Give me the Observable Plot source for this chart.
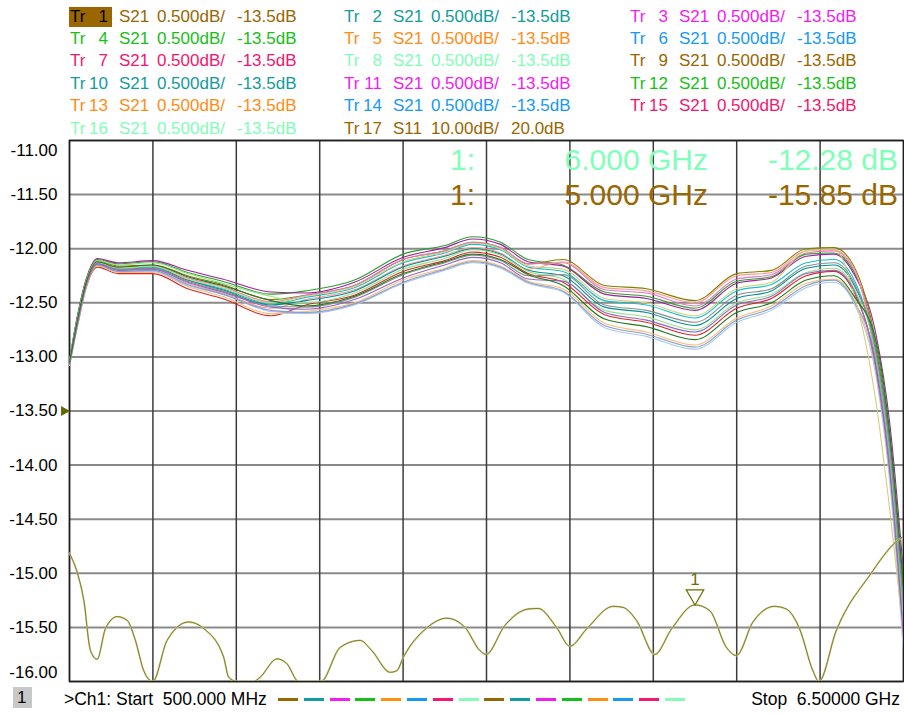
<!DOCTYPE html>
<html><head><meta charset="utf-8">
<script src="https://cdn.jsdelivr.net/npm/d3@7"></script>
<script src="https://cdn.jsdelivr.net/npm/@observablehq/plot@0.6"></script>
<style>
body{margin:0;background:#fff;font-family:"Liberation Sans",Arial,sans-serif;}
#wrap{position:relative;width:904px;height:714px;overflow:hidden;background:#fff}
.t{position:absolute;white-space:pre;font-size:17px;line-height:20px;}
.big{position:absolute;white-space:pre;font-size:30px;line-height:32px;}
#chart{position:absolute;left:0;top:130px;}
</style></head><body><div id="wrap"><div id="chart"></div></div>
<script>
// ---- data ----
const freqGHz = [0.50,0.56,0.62,0.70,0.85,1.10,1.35,1.60,1.95,2.20,2.55,2.90,3.20,3.40,3.60,3.80,4.05,4.35,4.65,5.00,5.30,5.55,5.80,6.00,6.15,6.30,6.40,6.50];

const tr1  = [-13.04,-12.61,-12.29,-12.10,-12.14,-12.12,-12.22,-12.30,-12.42,-12.39,-12.29,-12.05,-11.97,-11.89,-11.94,-12.10,-12.15,-12.40,-12.44,-12.55,-12.30,-12.26,-12.05,-12.04,-12.23,-12.91,-13.78,-15.24];
const tr2  = [-13.03,-12.60,-12.28,-12.09,-12.13,-12.11,-12.20,-12.28,-12.40,-12.41,-12.31,-12.08,-11.99,-11.91,-11.96,-12.12,-12.16,-12.42,-12.46,-12.57,-12.32,-12.27,-12.07,-12.05,-12.25,-12.78,-13.60,-15.00];
const tr3  = [-13.04,-12.63,-12.30,-12.11,-12.16,-12.15,-12.25,-12.33,-12.47,-12.43,-12.34,-12.10,-12.02,-11.94,-11.99,-12.14,-12.10,-12.34,-12.37,-12.48,-12.23,-12.20,-12.00,-11.99,-12.18,-12.86,-13.72,-15.16];
const tr4  = [-13.06,-12.65,-12.32,-12.13,-12.18,-12.17,-12.29,-12.37,-12.51,-12.45,-12.36,-12.13,-12.04,-11.96,-12.01,-12.17,-12.21,-12.48,-12.52,-12.64,-12.39,-12.33,-12.13,-12.10,-12.30,-12.99,-13.90,-15.40];
const tr5  = [-13.05,-12.64,-12.31,-12.12,-12.17,-12.16,-12.27,-12.35,-12.49,-12.43,-12.34,-12.10,-12.02,-11.94,-11.99,-12.14,-12.13,-12.38,-12.41,-12.53,-12.28,-12.24,-12.04,-12.02,-12.21,-12.95,-13.84,-15.32];
const tr6  = [-13.07,-12.67,-12.34,-12.15,-12.20,-12.19,-12.32,-12.41,-12.55,-12.47,-12.38,-12.16,-12.06,-11.99,-12.04,-12.19,-12.12,-12.36,-12.39,-12.50,-12.25,-12.22,-12.02,-12.01,-12.20,-13.03,-13.96,-15.48];
const tr7  = [-13.08,-12.70,-12.36,-12.17,-12.23,-12.23,-12.37,-12.46,-12.62,-12.52,-12.43,-12.21,-12.11,-12.03,-12.08,-12.23,-12.31,-12.61,-12.68,-12.80,-12.55,-12.46,-12.25,-12.21,-12.42,-13.07,-14.02,-15.56];
const tr8  = [-13.08,-12.69,-12.35,-12.16,-12.22,-12.22,-12.35,-12.44,-12.60,-12.58,-12.50,-12.29,-12.18,-12.11,-12.16,-12.30,-12.37,-12.69,-12.77,-12.89,-12.64,-12.53,-12.32,-12.28,-12.49,-13.12,-14.08,-15.64];
const tr9  = [-13.07,-12.68,-12.34,-12.15,-12.21,-12.21,-12.34,-12.42,-12.58,-12.60,-12.52,-12.32,-12.20,-12.13,-12.18,-12.32,-12.40,-12.73,-12.81,-12.93,-12.68,-12.57,-12.36,-12.31,-12.52,-13.16,-14.14,-15.72];
const tr10 = [-13.07,-12.68,-12.34,-12.15,-12.21,-12.20,-12.33,-12.42,-12.57,-12.59,-12.51,-12.31,-12.19,-12.12,-12.17,-12.31,-12.39,-12.71,-12.79,-12.91,-12.66,-12.55,-12.34,-12.29,-12.50,-13.03,-13.96,-15.48];
const tr11 = [-13.06,-12.66,-12.32,-12.13,-12.19,-12.18,-12.29,-12.38,-12.52,-12.48,-12.39,-12.17,-12.07,-12.00,-12.05,-12.20,-12.25,-12.54,-12.59,-12.71,-12.46,-12.39,-12.18,-12.15,-12.35,-12.93,-13.81,-15.28];
const tr12 = [-13.05,-12.65,-12.32,-12.13,-12.18,-12.16,-12.28,-12.36,-12.50,-12.44,-12.35,-12.12,-12.03,-11.95,-12.00,-12.16,-12.19,-12.46,-12.50,-12.62,-12.37,-12.31,-12.02,-12.00,-12.45,-13.40,-14.40,-15.55];
const tr13 = [-13.04,-12.62,-12.30,-12.11,-12.15,-12.13,-12.23,-12.32,-12.44,-12.50,-12.41,-12.19,-12.09,-12.01,-12.06,-12.21,-12.28,-12.57,-12.63,-12.75,-12.50,-12.42,-12.22,-12.18,-12.38,-12.97,-13.87,-15.36];
const tr14 = [-13.06,-12.66,-12.33,-12.14,-12.19,-12.18,-12.30,-12.39,-12.53,-12.54,-12.45,-12.24,-12.13,-12.06,-12.11,-12.25,-12.24,-12.52,-12.57,-12.68,-12.43,-12.37,-12.16,-12.13,-12.33,-12.95,-13.84,-15.32];
const tr15 = [-13.06,-12.67,-12.33,-12.14,-12.20,-12.19,-12.31,-12.40,-12.54,-12.56,-12.47,-12.27,-12.15,-12.08,-12.13,-12.28,-12.30,-12.59,-12.66,-12.77,-12.52,-12.44,-12.23,-12.20,-12.40,-13.10,-14.05,-15.60];
const tr16 = [-13.05,-12.64,-12.31,-12.12,-12.17,-12.15,-12.26,-12.34,-12.48,-12.53,-12.44,-12.23,-12.12,-12.05,-12.10,-12.24,-12.34,-12.65,-12.72,-12.84,-12.59,-12.50,-12.29,-12.25,-12.45,-12.84,-13.69,-15.12];
const s21Traces = [tr1,tr2,tr3,tr4,tr5,tr6,tr7,tr8,tr9,tr10,tr11,tr12,tr13,tr14,tr15,tr16];
const curveColors = ["#2ca02c","#a0209a","#808000","#17becf","#e377c2","#ff9896","#d62728","#ffbb78","#aec7e8","#7f9fd0","#009090","#d4d07a","#98df8a","#8c8c8c","#9467bd","#1e7b1e"];

// Tr 17: S11 (10 dB/div, ref 20 dB at the reference line)
const s11Freq = [0.50,0.555,0.603,0.651,0.699,0.759,0.843,0.915,0.974,1.034,1.099,1.202,1.357,1.465,1.609,1.645,1.705,1.824,1.872,1.992,2.064,2.148,2.309,2.447,2.591,2.675,2.807,2.855,2.902,3.070,3.214,3.345,3.453,3.496,3.633,3.800,3.872,4.004,4.100,4.220,4.411,4.483,4.579,4.711,4.831,5.000,5.106,5.226,5.298,5.417,5.573,5.657,5.753,5.848,5.891,6.016,6.256,6.459,6.500];
const s11dB   = [-6.3,-9.8,-15.0,-24.3,-25.9,-20.2,-18.0,-18.7,-22.4,-28.0,-30.0,-22.4,-19.0,-20.2,-25.5,-29.2,-30.0,-30.0,-29.2,-25.8,-26.7,-30.0,-30.0,-23.7,-22.4,-24.3,-28.3,-28.0,-25.5,-20.1,-18.3,-20.0,-24.3,-25.0,-19.6,-16.6,-16.5,-20.0,-23.5,-20.3,-16.1,-16.3,-18.7,-25.0,-20.3,-15.85,-16.9,-23.7,-25.2,-19.0,-16.1,-16.6,-20.3,-28.0,-30.0,-20.6,-10.4,-3.9,-3.2];
const s11Ref = 20.0, s11PerDiv = 10.0, s21Ref = -13.5, s21PerDiv = 0.5;

const yTicks = [-11.0,-11.5,-12.0,-12.5,-13.0,-13.5,-14.0,-14.5,-15.0,-15.5,-16.0];
const xGrid = [0.5,1.1,1.7,2.3,2.9,3.5,4.1,4.7,5.3,5.9,6.5];

const legendNums = ["1","2","3","4","5","6","7","8","9","10","11","12","13","14","15","16","17"];
const legendParams = ["S21","S21","S21","S21","S21","S21","S21","S21","S21","S21","S21","S21","S21","S21","S21","S21","S11"];
const legendScales = ["0.500dB/","0.500dB/","0.500dB/","0.500dB/","0.500dB/","0.500dB/","0.500dB/","0.500dB/","0.500dB/","0.500dB/","0.500dB/","0.500dB/","0.500dB/","0.500dB/","0.500dB/","0.500dB/","10.00dB/"];
const legendRefs = ["-13.5dB","-13.5dB","-13.5dB","-13.5dB","-13.5dB","-13.5dB","-13.5dB","-13.5dB","-13.5dB","-13.5dB","-13.5dB","-13.5dB","-13.5dB","-13.5dB","-13.5dB","-13.5dB","20.0dB"];
const legendColors = ["#996600","#139c9c","#f01cf0","#16c016","#ff8c14","#1699f5","#f5166e","#84fcb8","#996600","#139c9c","#f01cf0","#16c016","#ff8c14","#1699f5","#f5166e","#84fcb8","#996600"];

const markerRows = [
  {label:"1:", freq:"6.000 GHz", val:"-12.28 dB", color:"#80ffb8"},
  {label:"1:", freq:"5.000 GHz", val:"-15.85 dB", color:"#996600"}
];
const markerFreq = 5.0, markerS11 = -15.85;
const startText = ">Ch1: Start  500.000 MHz", stopText = "Stop  6.50000 GHz";

// ---- build ----
const toDisp = v => s21Ref + (v - s11Ref) / s11PerDiv * s21PerDiv;
const s11Rows = s11Freq.map((f,i)=>({f, v: toDisp(s11dB[i])}));

const marks = [
  Plot.gridY(yTicks, {stroke:"#8a8a8a", strokeWidth:2, strokeOpacity:1}),
  Plot.gridX(xGrid, {stroke:"#3c3c3c", strokeWidth:1.5, strokeOpacity:1}),
  Plot.frame({stroke:"#1e1e1e", strokeWidth:1.5}),
  Plot.axisY(yTicks.slice(1,-1), {tickSize:0, tickPadding:12, fontSize:17, fill:"#000", tickFormat:d=>d.toFixed(2), label:null}),
  Plot.axisY([yTicks[0]], {tickSize:0, tickPadding:12, fontSize:17, fill:"#000", dy:10, tickFormat:d=>d.toFixed(2), label:null}),
  Plot.axisY([yTicks[yTicks.length-1]], {tickSize:0, tickPadding:12, fontSize:17, fill:"#000", dy:-9, tickFormat:d=>d.toFixed(2), label:null})
];
s21Traces.forEach((arr,k)=>{
  const rows = freqGHz.map((f,i)=>({f, v: arr[i]}));
  marks.push(Plot.line(rows, {x:"f", y:"v", stroke:curveColors[k], strokeWidth:1.1, curve:"monotone-x", clip:true}));
});
marks.push(Plot.line(s11Rows, {x:"f", y:"v", stroke:"#cfca98", strokeWidth:1.8, curve:"monotone-x", clip:true}));
marks.push(Plot.line(s11Rows, {x:"f", y:"v", stroke:"#6e6e00", strokeWidth:0.8, curve:"monotone-x", clip:true}));
marks.push(Plot.dot([{f:0.5, v:s21Ref}], {x:"f", y:"v", symbol:"triangle", rotate:90, r:3.8, fill:"#666600", stroke:null, dx:-5.5}));
marks.push(Plot.dot([{f:markerFreq, v:toDisp(markerS11)}], {x:"f", y:"v", symbol:"triangle", rotate:180, r:6.5, fill:"none", stroke:"#6e6e00", strokeWidth:1.2, dy:-10}));
marks.push(Plot.text([{f:markerFreq, v:toDisp(markerS11)}], {x:"f", y:"v", text:()=>"1", fontSize:17, fill:"#6e6e00", dy:-25}));

const chart = Plot.plot({
  width:904, height:560, marginTop:10, marginBottom:9, marginLeft:69, marginRight:1,
  x:{domain:[0.5,6.5], axis:null},
  y:{domain:[-16,-11], axis:null},
  style:{fontFamily:"'Liberation Sans', Arial, sans-serif", background:"transparent", overflow:"visible"},
  marks
});
document.getElementById("chart").appendChild(chart);

const wrap = document.getElementById("wrap");
function addText(txt, x, cy, color, opts={}) {
  const d = document.createElement("div");
  d.className = opts.cls || "t";
  d.textContent = txt;
  d.style.color = color;
  const lh = opts.cls === "big" ? 32 : 20;
  d.style.top = (cy - lh/2) + "px";
  d.style.left = x + "px";
  if (opts.right) d.style.transform = "translateX(-100%)";
  if (opts.size) d.style.fontSize = opts.size + "px";
  wrap.appendChild(d);
  return d;
}
// legend
const colOff = [0, 274, 560];
legendNums.forEach((n,k)=>{
  const r = Math.floor(k/3), c = k%3, o = colOff[c];
  const cy = 16.5 + 22.4*r;
  const col = legendColors[k];
  if (k === 0) {
    const b = document.createElement("div");
    b.style.cssText = `position:absolute;left:69px;top:${cy-10}px;width:43px;height:20px;background:${col}`;
    wrap.appendChild(b);
    addText("Tr", 70+o, cy, "#000");
    addText(n, 108+o, cy, "#000", {right:true});
  } else {
    addText("Tr", 70+o, cy, col);
    addText(n, 108+o, cy, col, {right:true});
  }
  addText(legendParams[k], 119+o, cy, col);
  addText(legendScales[k], 225+o, cy, col, {right:true});
  addText(legendRefs[k], 237+o, cy, col);
});
// marker readout
markerRows.forEach((m,i)=>{
  const cy = 160 + 35*i;
  addText(m.label, 450, cy, m.color, {cls:"big"});
  addText(m.freq, 708, cy, m.color, {cls:"big", right:true});
  addText(m.val, 898, cy, m.color, {cls:"big", right:true});
});
// bottom status line
const box = document.createElement("div");
box.style.cssText = "position:absolute;left:13px;top:687px;width:19px;height:21px;background:#c8c8c8";
wrap.appendChild(box);
addText("1", 17, 698, "#000");
addText(startText, 64, 699, "#000", {size:17.5});
const dashColors = legendColors.slice(0,16);
dashColors.forEach((c,i)=>{
  const d = document.createElement("div");
  d.style.cssText = `position:absolute;left:${278+i*25.8}px;top:698px;width:20px;height:2.5px;background:${c}`;
  wrap.appendChild(d);
});
addText(stopText, 900, 699, "#000", {right:true, size:17.5});
</script></body></html>
